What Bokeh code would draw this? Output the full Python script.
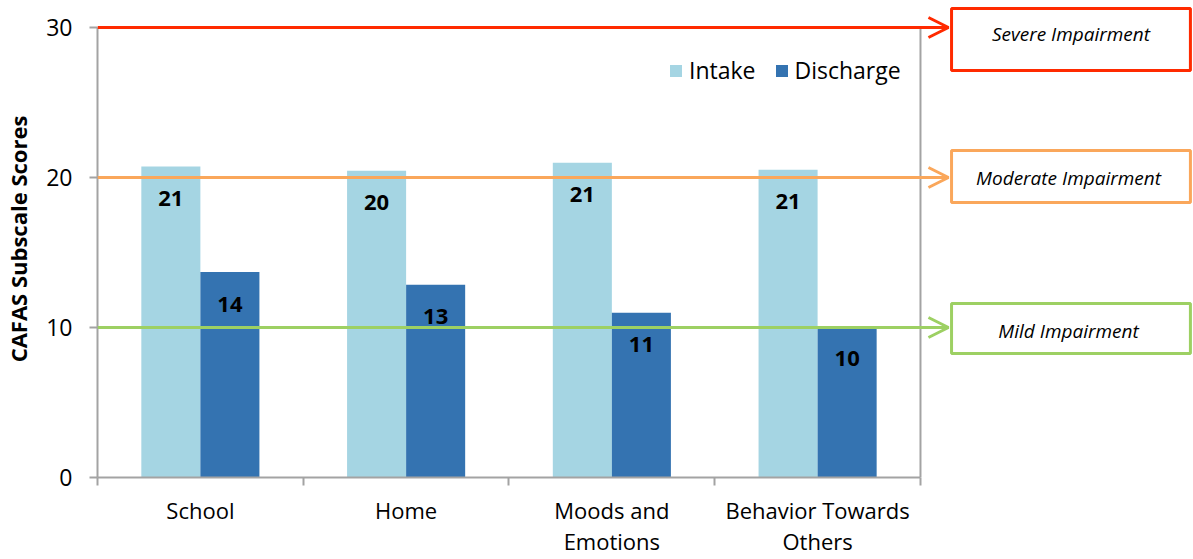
from bokeh.plotting import figure
from bokeh.models import (Range1d, LinearAxis, FixedTicker, Arrow, OpenHead,
                          Legend, LegendItem, ColumnDataSource)
from bokeh.core.properties import value
from bokeh.embed import file_html
from bokeh.resources import INLINE

# ---------------- data ----------------
categories = ["School", "Home", "Moods and\nEmotions", "Behavior Towards\nOthers"]
intake = [20.73, 20.45, 20.98, 20.52]
discharge = [13.7, 12.85, 10.98, 10.05]
series_names = ["Intake", "Discharge"]
y_ticks = [0, 10, 20, 30]
levels = [30, 20, 10]
level_names = ["Severe Impairment", "Moderate  Impairment", "Mild  Impairment"]

# ---------------- style ----------------
C_INTAKE = "#A5D5E3"
C_DISCH = "#3473B1"
LEVEL_COLORS = ["#FF2A00", "#FAA75B", "#9DD063"]
GRAY = "#A3A3A3"
FONT = "Open Sans"

BAR_W = 0.287
X_END = 5.327
Y_END = 31.8

p = figure(width=1193, height=559, x_range=Range1d(0, X_END), y_range=Range1d(0, Y_END),
           output_backend="svg", toolbar_location=None,
           x_axis_type=None, y_axis_type=None,
           min_border_left=97, min_border_right=0, min_border_top=0, min_border_bottom=82)
p.outline_line_color = None
p.background_fill_color = "white"
p.border_fill_color = "white"

n = len(categories)
centers = [i + 0.5 for i in range(n)]
xi = [c - BAR_W / 2 for c in centers]
xd = [c + BAR_W / 2 for c in centers]

src = ColumnDataSource(dict(xi=xi, xd=xd, intake=intake, discharge=discharge,
                            li=[str(round(v)) for v in intake],
                            ld=[str(round(v)) for v in discharge]))

r1 = p.vbar(x="xi", top="intake", width=BAR_W, source=src, fill_color=C_INTAKE, line_color=None)
r2 = p.vbar(x="xd", top="discharge", width=BAR_W, source=src, fill_color=C_DISCH, line_color=None)

# right frame border
p.segment(x0=[n], y0=[0], x1=[n], y1=[max(y_ticks)], line_color=GRAY, line_width=2)

# value labels
for xcol, lcol, ycol in (("xi", "li", "intake"), ("xd", "ld", "discharge")):
    p.text(x=xcol, y=ycol, text=lcol, source=src, text_font=value(FONT),
           text_font_style="bold", text_font_size="22px", text_color="black",
           text_align="center", text_baseline="middle", y_offset=32)

# level lines, arrows, boxes
BOX_L = 4.151
BOX_R = 5.312
box_centers = [29.2, 20.07, 9.93]
box_halves = [2.07, 1.73, 1.67]
text_ys = [29.6, 20.0, 9.75]
for lv, name, col, bc, bh, ty in zip(levels, level_names, LEVEL_COLORS, box_centers, box_halves, text_ys):
    p.add_layout(Arrow(end=OpenHead(size=20, line_color=col, line_width=3),
                       x_start=0, y_start=lv, x_end=BOX_L - 0.015, y_end=lv,
                       line_color=col, line_width=3))
    p.quad(left=[BOX_L], right=[BOX_R], bottom=[bc - bh], top=[bc + bh],
           fill_color="white", line_color=col, line_width=3)
    p.text(x=[(BOX_L + BOX_R) / 2], y=[ty], text=[name], text_font=value(FONT),
           text_font_style="italic", text_font_size="19px", text_color="black",
           text_align="center", text_baseline="middle")

# axes
yax = LinearAxis(ticker=FixedTicker(ticks=y_ticks), bounds=(0, max(y_ticks)),
                 axis_label="CAFAS Subscale Scores")
yax.axis_line_color = GRAY
yax.axis_line_width = 2
yax.major_tick_line_color = GRAY
yax.major_tick_line_width = 2
yax.major_tick_out = 8
yax.major_tick_in = 0
yax.minor_tick_out = 0
yax.minor_tick_in = 0
yax.major_label_standoff = 17
yax.major_label_text_font = FONT
yax.major_label_text_font_size = "23px"
yax.major_label_text_color = "black"
yax.axis_label_text_font = FONT
yax.axis_label_text_font_style = "bold"
yax.axis_label_text_font_size = "22px"
yax.axis_label_text_color = "black"
yax.axis_label_standoff = 10
p.add_layout(yax, "left")

xax = LinearAxis(ticker=FixedTicker(ticks=centers, minor_ticks=list(range(n + 1))),
                 bounds=(0, n),
                 major_label_overrides={c: lab for c, lab in zip(centers, categories)})
xax.axis_line_color = GRAY
xax.axis_line_width = 2
xax.major_tick_out = 0
xax.major_tick_in = 0
xax.minor_tick_line_color = GRAY
xax.minor_tick_line_width = 2
xax.minor_tick_out = 8
xax.minor_tick_in = 0
xax.major_label_standoff = 9
xax.major_label_text_font = FONT
xax.major_label_text_font_size = "22px"
xax.major_label_text_line_height = 1.05
xax.major_label_text_color = "black"
p.add_layout(xax, "below")

legend = Legend(items=[LegendItem(label=series_names[0], renderers=[r1]),
                       LegendItem(label=series_names[1], renderers=[r2])],
                orientation="horizontal", location=(571, 391),
                glyph_width=15, glyph_height=15, label_standoff=6, spacing=18,
                padding=0, margin=0, border_line_color=None, background_fill_alpha=0,
                label_text_font=FONT, label_text_font_size="23px", label_text_color="black")
p.add_layout(legend)

open("out.html", "w").write(file_html(p, INLINE))
